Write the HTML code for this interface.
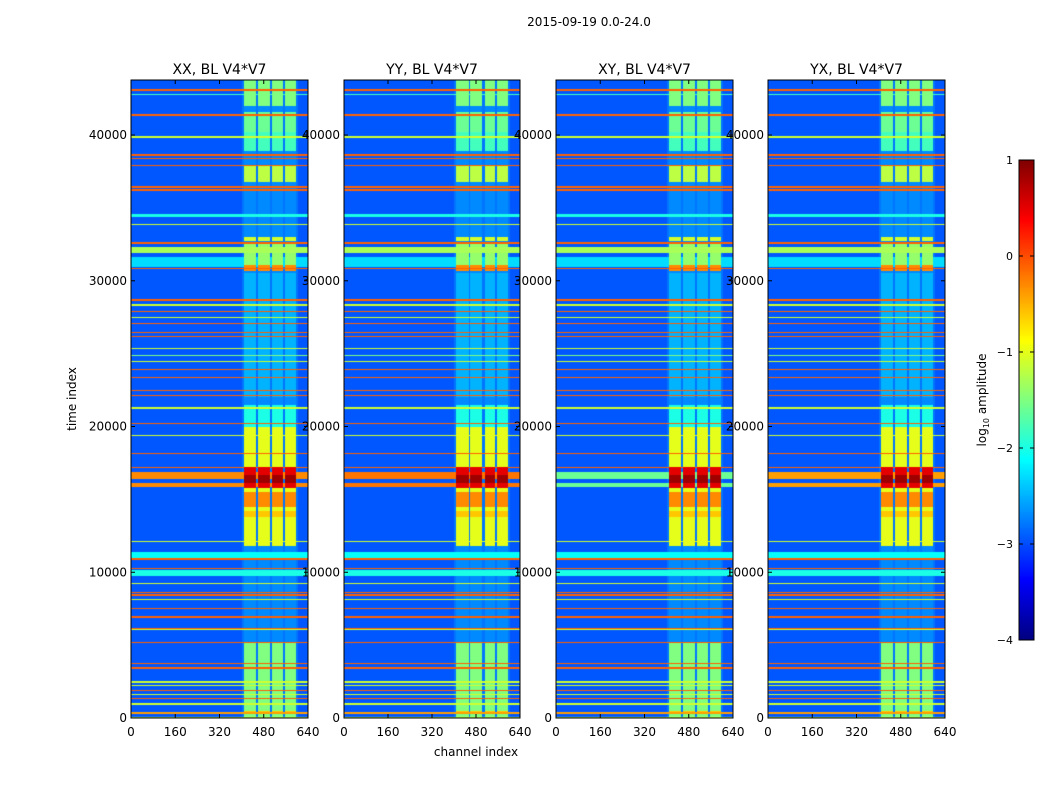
<!DOCTYPE html>
<html><head><meta charset="utf-8"><style>
body{margin:0;background:#fff;}
#root{position:relative;width:1050px;height:800px;overflow:hidden;font-family:"DejaVu Sans","Liberation Sans",sans-serif;background:#fff;}
canvas{position:absolute;}
svg{position:absolute;left:0;top:0;font-family:"DejaVu Sans","Liberation Sans",sans-serif;}
</style></head><body>
<div id="root">
<canvas id="c0" width="177" height="638" style="left:131px;top:80px;width:177px;height:638px"></canvas>
<canvas id="c1" width="176" height="638" style="left:344px;top:80px;width:176px;height:638px"></canvas>
<canvas id="c2" width="177" height="638" style="left:556px;top:80px;width:177px;height:638px"></canvas>
<canvas id="c3" width="177" height="638" style="left:768px;top:80px;width:177px;height:638px"></canvas>
<canvas id="cb" width="15" height="480" style="left:1019px;top:160px;width:15px;height:480px"></canvas>
<svg id="ov" width="1050" height="800"></svg>
</div>
<script>
const panelTitles=["XX, BL V4*V7","YY, BL V4*V7","XY, BL V4*V7","YX, BL V4*V7"];
const panelLeft=[131,344,556,768];
const panelWidth=[177,176,177,177];
const yTicks=[0,10000,20000,30000,40000];
const xTicks=[0,160,320,480,640];
const cbTicks=[1,0,-1,-2,-3,-4];
const tMax=43776, chMax=640, vMin=-4, vMax=1;
const bgValue=-2.95;
// vertical channel columns [ch0,ch1]
const columns=[[408,453],[460,503],[511,550],[558,597]];
const columnBase=-2.7;
// column activity spans [t0,t1,value]
const columnSpans=[[0,5200,-1.5],[300,500,-0.6],[11800,20000,-1.0],[20000,21500,-2.0],[22000,30500,-2.5],[30700,31100,-0.3],[31100,32500,-1.4],[32700,33000,-1.1],[36800,37900,-1.2],[38900,40200,-1.8],[40200,41600,-1.6],[42000,43776,-1.5],[14500,15500,-0.3],[13800,14200,-0.6],[15800,17200,0.5],[16100,16700,0.85]];
// horizontal lines [t, widthInTime, value]
const hLines=[[43090,80,-0.1],[42800,90,-1.8],[41370,90,-0.1],[39870,90,-1.1],[38630,70,-0.1],[38420,70,-0.1],[37940,70,-0.1],[36430,90,-0.1],[36230,80,-0.1],[34510,200,-2.0],[33890,70,-1.1],[32590,180,-0.1],[32100,400,-1.3],[31300,700,-2.3],[30810,70,-0.1],[28680,180,-0.1],[28340,90,-1.1],[27860,70,-0.1],[27500,70,-1.1],[27100,70,-0.1],[26420,70,-0.1],[26200,70,-0.1],[25320,70,-1.1],[24900,70,-1.5],[24430,70,-1.1],[23880,70,-0.1],[23330,70,-0.1],[22500,70,-0.1],[22160,70,-0.1],[21270,70,-1.1],[20240,70,-0.1],[19350,70,-1.1],[18180,70,-0.1],[17220,70,-0.1],[12080,70,-1.1],[11200,400,-2.1],[10910,70,-0.1],[10290,70,-0.1],[9950,400,-2.0],[9260,70,-1.1],[8580,70,-0.1],[8440,70,-0.1],[8100,70,-1.1],[7480,70,-0.1],[6930,70,-0.1],[6170,70,-0.1],[6040,70,-1.1],[5210,70,-0.1],[3770,70,-0.1],[3430,120,-0.1],[2470,70,-1.1],[2250,70,-1.1],[1920,70,-0.1],[1580,70,-1.1],[1370,70,-0.1],[960,70,-1.1],[340,140,-0.4],[60,80,-1.1]];
// broadband event [t0,t1] and per-panel strength
const eventSpan=[15850,16900];
const eventStrength=[-0.3,-0.2,-1.6,-0.4];

function jet(t){const c=x=>Math.max(0,Math.min(1,x));return [c(1.5-Math.abs(4*t-3)),c(1.5-Math.abs(4*t-2)),c(1.5-Math.abs(4*t-1))].map(v=>Math.round(v*255));}
function norm(v){return Math.max(0,Math.min(1,(v-vMin)/(vMax-vMin)));}
function value(t,ch,p){
  let v=bgValue, inCol=false;
  for(const c of columns){if(ch>=c[0]&&ch<=c[1]){inCol=true;break;}}
  if(ch>=400&&ch<=605) v=Math.max(v,-2.8);
  if(inCol){v=columnBase;for(const s of columnSpans){if(t>=s[0]&&t<=s[1])v=Math.max(v,s[2]);}}
  for(const l of hLines){if(Math.abs(t-l[0])<=l[1]/2)v=Math.max(v,l[2]);}
  if(t>=eventSpan[0]&&t<=eventSpan[1]&&Math.abs(t-16250)>120) v=Math.max(v,eventStrength[p]);
  return v;
}
for(let p=0;p<4;p++){
  const cv=document.getElementById('c'+p),ctx=cv.getContext('2d');
  const W=cv.width,H=cv.height,img=ctx.createImageData(W,H);
  for(let y=0;y<H;y++){const t=tMax-(y+0.5)/H*tMax;
    for(let x=0;x<W;x++){const ch=(x+0.5)/W*chMax;const col=jet(norm(value(t,ch,p)));const i=(y*W+x)*4;
      img.data[i]=col[0];img.data[i+1]=col[1];img.data[i+2]=col[2];img.data[i+3]=255;}}
  ctx.putImageData(img,0,0);
}
{const cv=document.getElementById('cb'),ctx=cv.getContext('2d');
 for(let y=0;y<cv.height;y++){const col=jet(1-(y+0.5)/cv.height);ctx.fillStyle=`rgb(${col})`;ctx.fillRect(0,y,cv.width,1);}}

const NS="http://www.w3.org/2000/svg",ov=document.getElementById('ov');
function mk(tag,attrs,txt){const e=document.createElementNS(NS,tag);for(const k in attrs)e.setAttribute(k,attrs[k]);if(txt!==undefined)e.textContent=txt;ov.appendChild(e);return e;}
const axTop=80,axBot=718;
function ys(t){return axBot-t/tMax*(axBot-axTop);}
let e;
e=mk('text',{x:589,y:26,'font-size':12,'text-anchor':'middle'},'2015-09-19 0.0-24.0');


for(let p=0;p<4;p++){
  const L=panelLeft[p],W=panelWidth[p],xs=c=>L+c/chMax*W;
  e=mk('rect',{x:L,y:axTop,width:W,height:axBot-axTop,fill:'none',stroke:'#000','stroke-width':1});
  
  
  e=mk('text',{x:L+W/2,y:74,'font-size':14,'text-anchor':'middle'},panelTitles[p]);
  
  
  for(const t of yTicks){const y=ys(t);
    mk('line',{x1:L,x2:L+4,y1:y,y2:y,stroke:'#000'});mk('line',{x1:L+W-4,x2:L+W,y1:y,y2:y,stroke:'#000'});
    e=mk('text',{x:L-4,y:y+4,'font-size':12,'text-anchor':'end'},String(t));
    
    }
  for(const c of xTicks){const x=xs(c);
    mk('line',{x1:x,x2:x,y1:axBot,y2:axBot-4,stroke:'#000'});mk('line',{x1:x,x2:x,y1:axTop,y2:axTop+4,stroke:'#000'});
    e=mk('text',{x:x,y:736,'font-size':12,'text-anchor':'middle'},String(c));
    
    }
}
e=mk('text',{x:476,y:756,'font-size':12,'text-anchor':'middle'},'channel index');


e=mk('text',{x:0,y:0,'font-size':12,'text-anchor':'middle',transform:'translate(76,399) rotate(-90)'},'time index');


mk('rect',{x:1019,y:160,width:15,height:480,fill:'none',stroke:'#000'});
for(const v of cbTicks){const y=640-(v-vMin)/(vMax-vMin)*480;
  mk('line',{x1:1019,x2:1023,y1:y,y2:y,stroke:'#000'});mk('line',{x1:1030,x2:1034,y1:y,y2:y,stroke:'#000'});
  e=mk('text',{x:1013,y:y+4,'font-size':11,'text-anchor':'end'},v<0?'\u2212'+(-v):String(v));
  
  }
e=mk('text',{x:0,y:0,'font-size':12,'text-anchor':'middle',transform:'translate(986,400) rotate(-90)'});
e.innerHTML='log<tspan font-size="8" dy="3">10</tspan><tspan dy="-3"> amplitude</tspan>';


</script>
</body></html>
